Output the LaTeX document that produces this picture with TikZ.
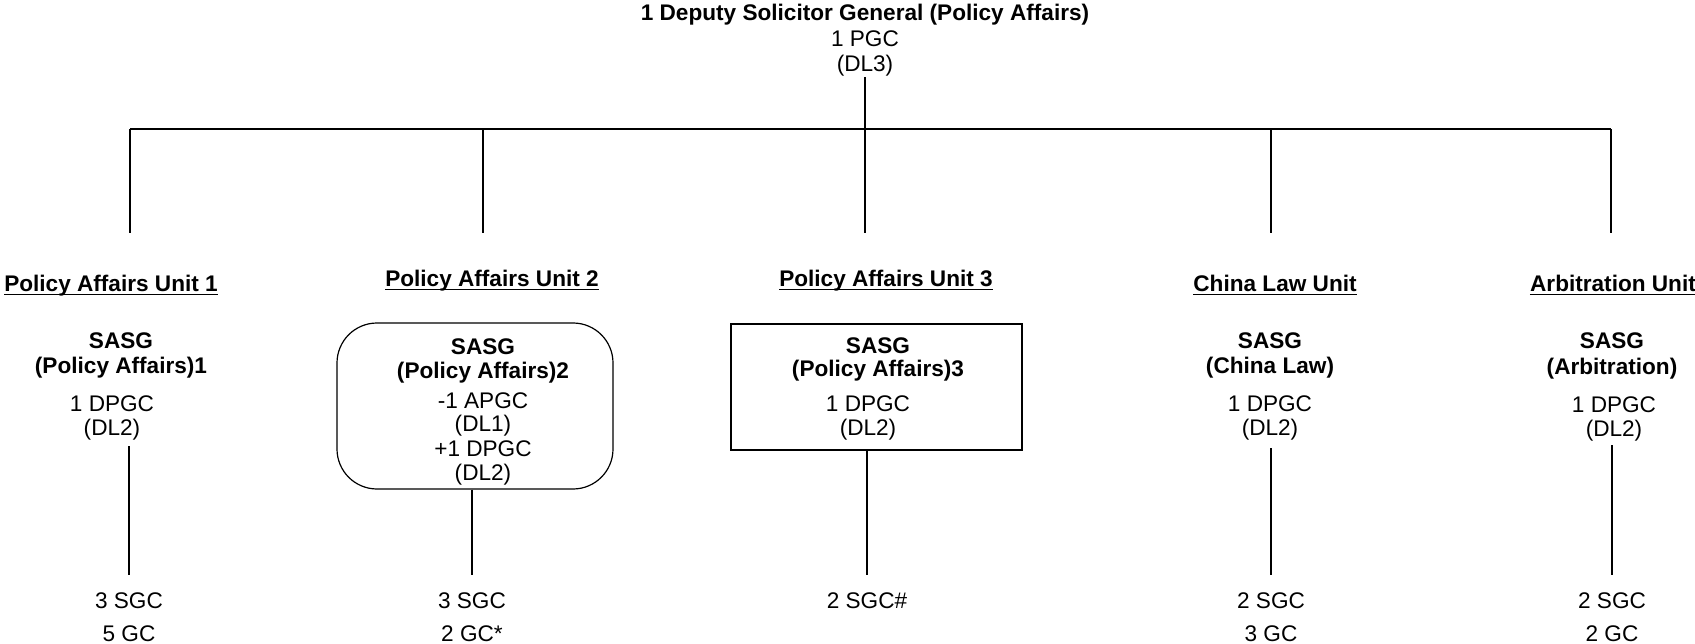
\documentclass[tikz,border=0pt]{standalone}
\usepackage{fontspec}
\setmainfont{Liberation Sans}
\begin{document}
\begin{tikzpicture}[x=1pt,y=-1pt,
  every node/.style={inner sep=0pt,text height=18.5pt,text depth=2pt,font=\fontsize{22.6pt}{25pt}\selectfont},
  bt/.style={font=\fontsize{22.6pt}{25pt}\selectfont\bfseries},
  rt/.style={},
  hd/.style={font=\fontsize{22.6pt}{25pt}\selectfont\bfseries},
  wire/.style={line width=1.1pt,black},
  barline/.style={line width=1.6pt,black},
  uline/.style={line width=1.4pt,black},
  boxr/.style={draw,line width=1.2pt,rounded corners=40pt,text height=,text depth=},
  boxs/.style={draw,line width=1.2pt,text height=,text depth=}]
\useasboundingbox (0,0) rectangle (1695,644);

% top
\node[bt] (dsg) at (865,12) {1 Deputy Solicitor General (Policy Affairs)};
\node[rt] (pgc) at (865,38) {1 PGC};
\node[rt] (dl3) at (865,63) {(DL3)};
\coordinate (top) at (865,77);
\coordinate (j0) at (865,129);
\coordinate (bl) at (130,129);
\coordinate (br) at (1611,129);
\draw[wire] (top) -- (j0);
\draw[barline] (bl) -- (br);
\coordinate (b1) at (130,129);  \coordinate (e1) at (130,233);
\coordinate (b2) at (483,129);  \coordinate (e2) at (483,233);
\coordinate (b3) at (865,129);  \coordinate (e3) at (865,233);
\coordinate (b4) at (1271,129); \coordinate (e4) at (1271,233);
\coordinate (b5) at (1611,129); \coordinate (e5) at (1611,233);
\foreach \i in {1,...,5} \draw[wire] (b\i) -- (e\i);

% headings
\node[hd] (h1) at (111,283) {Policy Affairs Unit 1};
\node[hd] (h2) at (492,278) {Policy Affairs Unit 2};
\node[hd] (h3) at (886,278) {Policy Affairs Unit 3};
\node[hd] (h4) at (1275,283) {China Law Unit};
\node[hd] (h5) at (1613,283) {Arbitration Unit};
\foreach \h in {h1,h2,h3,h4,h5}
  \draw[uline] ([yshift=-3pt]\h.base west) -- ([yshift=-3pt]\h.base east);

% unit 1
\node[bt] (u1s1) at (121,340) {SASG};
\node[bt] (u1s2) at (121,365) {(Policy Affairs)1};
\node[rt] (u1d1) at (112,403) {1 DPGC};
\node[rt] (u1d2) at (112,427) {(DL2)};
\coordinate (u1a) at (129,446);
\coordinate (u1b) at (129,575);
\draw[wire] (u1a) -- (u1b);
\node[rt] (u1n1) at (129,600) {3 SGC};
\node[rt] (u1n2) at (129,633) {5 GC};

% unit 2
\node[boxr,minimum width=276pt,minimum height=166pt] (u2box) at (475,406) {};
\node[bt] (u2s1) at (483,346) {SASG};
\node[bt] (u2s2) at (483,370) {(Policy Affairs)2};
\node[rt] (u2t1) at (483,400) {-1 APGC};
\node[rt] (u2t2) at (483,423) {(DL1)};
\node[rt] (u2t3) at (483,448) {+1 DPGC};
\node[rt] (u2t4) at (483,472) {(DL2)};
\coordinate (u2b) at (472,575);
\draw[wire] (u2box.south -| u2b) -- (u2b);
\node[rt] (u2n1) at (472,600) {3 SGC};
\node[rt] (u2n2) at (472,633) {2 GC*};

% unit 3
\node[boxs,minimum width=291pt,minimum height=126pt] (u3box) at (876.5,387) {};
\node[bt] (u3s1) at (878,345) {SASG};
\node[bt] (u3s2) at (878,368) {(Policy Affairs)3};
\node[rt] (u3d1) at (868,403) {1 DPGC};
\node[rt] (u3d2) at (868,427) {(DL2)};
\coordinate (u3b) at (867,575);
\draw[wire] (u3box.south -| u3b) -- (u3b);
\node[rt] (u3n1) at (867,600) {2 SGC\#};

% unit 4
\node[bt] (u4s1) at (1270,340) {SASG};
\node[bt] (u4s2) at (1270,365) {(China Law)};
\node[rt] (u4d1) at (1270,403) {1 DPGC};
\node[rt] (u4d2) at (1270,427) {(DL2)};
\coordinate (u4a) at (1271,448);
\coordinate (u4b) at (1271,575);
\draw[wire] (u4a) -- (u4b);
\node[rt] (u4n1) at (1271,600) {2 SGC};
\node[rt] (u4n2) at (1271,633) {3 GC};

% unit 5
\node[bt] (u5s1) at (1612,340) {SASG};
\node[bt] (u5s2) at (1612,366) {(Arbitration)};
\node[rt] (u5d1) at (1614,404) {1 DPGC};
\node[rt] (u5d2) at (1614,428) {(DL2)};
\coordinate (u5a) at (1612,445);
\coordinate (u5b) at (1612,575);
\draw[wire] (u5a) -- (u5b);
\node[rt] (u5n1) at (1612,600) {2 SGC};
\node[rt] (u5n2) at (1612,633) {2 GC};
\end{tikzpicture}
\end{document}
